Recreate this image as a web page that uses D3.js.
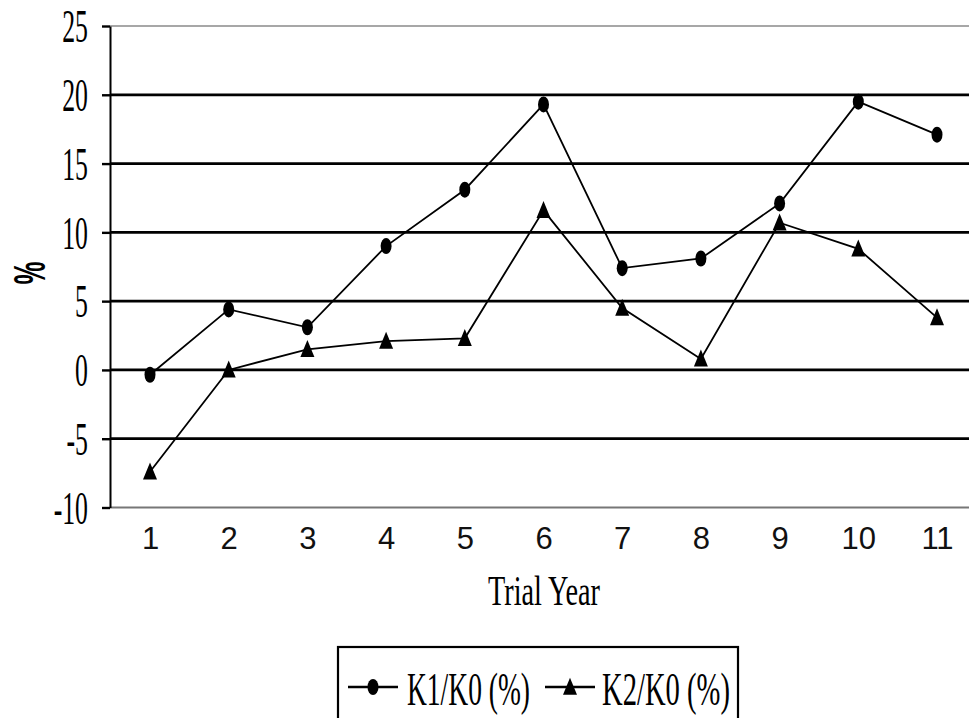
<!DOCTYPE html>
<html>
<head>
<meta charset="utf-8">
<script src="https://cdn.jsdelivr.net/npm/d3@7"></script>
<style>
  html, body { margin: 0; padding: 0; background: #fff; }
  svg { display: block; }
</style>
</head>
<body>
<svg id="chart" width="969" height="718"></svg>
<script>
// Trial years on the x axis
const years = [1, 2, 3, 4, 5, 6, 7, 8, 9, 10, 11];
// Yield change relative to K0, in percent
const k1k0 = [-0.35, 4.4, 3.1, 9.0, 13.1, 19.3, 7.4, 8.1, 12.1, 19.5, 17.1];
const k2k0 = [-7.4, 0.0, 1.5, 2.1, 2.3, 11.6, 4.5, 0.8, 10.7, 8.8, 3.8];
// Y axis ticks
const yTicks = [-10, -5, 0, 5, 10, 15, 20, 25];
const seriesNames = ["K1/K0 (%)", "K2/K0 (%)"];

const svg = d3.select("#chart");
const plotLeft = 110, plotRight = 969, plotTop = 26, plotBottom = 507.5;

const x = d3.scalePoint().domain(years).range([150, 937]);
const y = d3.scaleLinear().domain([-10, 25]).range([plotBottom, plotTop]);

// Horizontal gridlines
svg.append("g").selectAll("line")
  .data(yTicks.filter(v => v > -10 && v < 25))
  .join("line")
  .attr("x1", plotLeft).attr("x2", plotRight)
  .attr("y1", d => y(d)).attr("y2", d => y(d))
  .attr("stroke", "#000").attr("stroke-width", 2.8);

// Top frame line
svg.append("line")
  .attr("x1", plotLeft).attr("x2", plotRight)
  .attr("y1", y(25)).attr("y2", y(25))
  .attr("stroke", "#8a8a8a").attr("stroke-width", 1.6);

// Bottom axis line
svg.append("line")
  .attr("x1", plotLeft).attr("x2", plotRight)
  .attr("y1", y(-10)).attr("y2", y(-10))
  .attr("stroke", "#777").attr("stroke-width", 2);

// Y axis
const yAxis = svg.append("g")
  .attr("transform", `translate(${plotLeft},0)`)
  .call(d3.axisLeft(y).tickValues(yTicks).tickSize(8).tickSizeOuter(0)
    .tickFormat(d => String(d)));
yAxis.select(".domain").attr("stroke", "#000").attr("stroke-width", 2);
yAxis.selectAll(".tick line").attr("stroke", "#000").attr("stroke-width", 2.4);
yAxis.selectAll(".tick text")
  .attr("x", null)
  .attr("dy", "0.34em")
  .attr("transform", "translate(-22,0) scale(0.56,1)")
  .attr("text-anchor", "end")
  .attr("font-family", "'Liberation Serif', 'Times New Roman', serif")
  .attr("font-size", 46)
  .attr("fill", "#000");

// X axis labels
const xAxis = svg.append("g")
  .attr("transform", `translate(0,${plotBottom})`)
  .call(d3.axisBottom(x).tickSize(0).tickSizeOuter(0));
xAxis.select(".domain").remove();
xAxis.selectAll(".tick text")
  .attr("y", 41)
  .attr("dy", 0)
  .attr("font-family", "'Liberation Sans', Arial, sans-serif")
  .attr("font-size", 31)
  .attr("fill", "#111");

// Axis titles
svg.append("text")
  .attr("x", 488).attr("y", 605)
  .attr("textLength", 112).attr("lengthAdjust", "spacingAndGlyphs")
  .attr("font-family", "'Liberation Serif', 'Times New Roman', serif")
  .attr("font-size", 42)
  .text("Trial Year");

svg.append("text")
  .attr("transform", "translate(45,273) rotate(-90)")
  .attr("text-anchor", "middle")
  .attr("textLength", 23).attr("lengthAdjust", "spacingAndGlyphs")
  .attr("font-family", "'Liberation Sans', Arial, sans-serif")
  .attr("font-weight", "bold")
  .attr("font-size", 45)
  .text("%");

// Marker shapes
const triPath = (w, h) => `M0,${-h * 0.55}L${w / 2},${h * 0.45}L${-w / 2},${h * 0.45}Z`;
function drawMarker(g, kind, cx, cy) {
  if (kind === "circle") {
    g.append("ellipse").attr("cx", cx).attr("cy", cy)
      .attr("rx", 5.5).attr("ry", 8).attr("fill", "#000");
  } else {
    g.append("path").attr("d", triPath(14, 17))
      .attr("transform", `translate(${cx},${cy})`).attr("fill", "#000");
  }
}

const line = d3.line().x((d, i) => x(years[i])).y(d => y(d));
const series = [
  { values: k1k0, kind: "circle" },
  { values: k2k0, kind: "triangle" }
];

series.forEach(s => {
  const g = svg.append("g");
  g.append("path").datum(s.values)
    .attr("d", line)
    .attr("fill", "none").attr("stroke", "#000").attr("stroke-width", 1.8);
  s.values.forEach((v, i) => drawMarker(g, s.kind, x(years[i]), y(v)));
});

// Legend
const lg = svg.append("g");
lg.append("rect")
  .attr("x", 338).attr("y", 647).attr("width", 400).attr("height", 100)
  .attr("fill", "#fff").attr("stroke", "#000").attr("stroke-width", 2.2);

const legendItems = [
  { name: seriesNames[0], kind: "circle", x0: 348, tx: 407, tw: 123 },
  { name: seriesNames[1], kind: "triangle", x0: 545, tx: 602, tw: 128 }
];
legendItems.forEach(it => {
  lg.append("line")
    .attr("x1", it.x0).attr("x2", it.x0 + 50)
    .attr("y1", 687).attr("y2", 687)
    .attr("stroke", "#000").attr("stroke-width", 2.4);
  drawMarker(lg, it.kind, it.x0 + 25, 687);
  lg.append("text")
    .attr("x", it.tx).attr("y", 705)
    .attr("textLength", it.tw).attr("lengthAdjust", "spacingAndGlyphs")
    .attr("font-family", "'Liberation Serif', 'Times New Roman', serif")
    .attr("font-size", 46)
    .text(it.name);
});
</script>
</body>
</html>
